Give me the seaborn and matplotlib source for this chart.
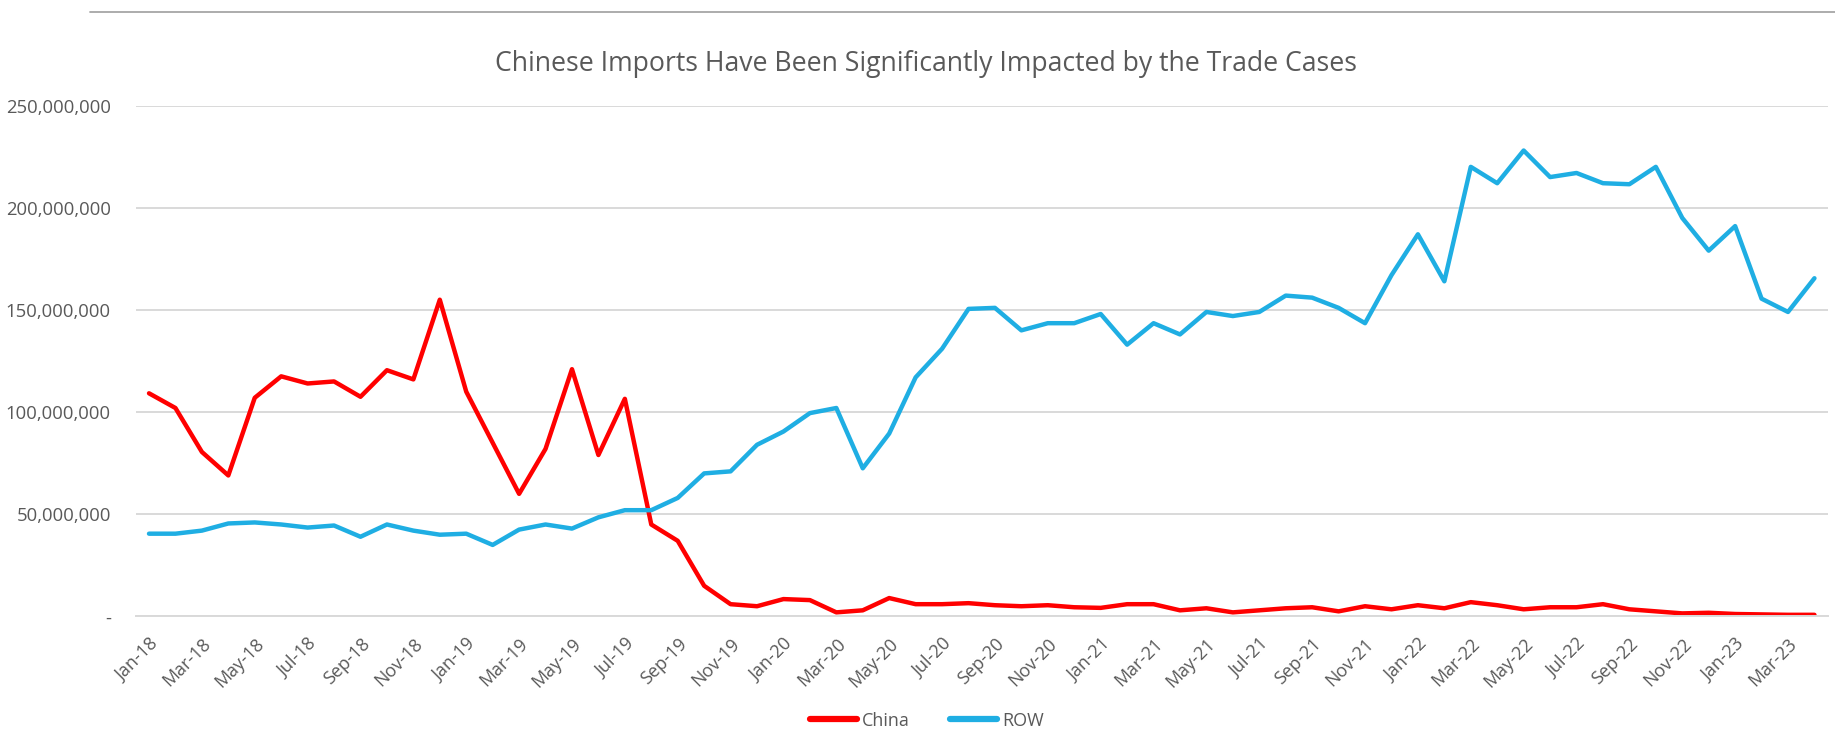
import numpy as np
import pandas as pd
import matplotlib.pyplot as plt
import matplotlib.ticker as mticker
from matplotlib.lines import Line2D
import seaborn as sns

# monthly categories Jan-18 .. Apr-23
months = pd.date_range("2018-01-01", "2023-04-01", freq="MS").strftime("%b-%y").tolist()

# imports, millions
china = [109.2, 102, 80.5, 69, 107, 117.5, 114, 115, 107.5, 120.5, 116, 155,
         110, 85, 60, 82, 121, 79, 106.5, 45, 37, 15, 6, 5,
         8.5, 8, 2, 3, 9, 6, 6, 6.5, 5.5, 5, 5.5, 4.5,
         4.2, 6, 6, 3, 4, 2, 3, 4, 4.5, 2.5, 5, 3.5,
         5.5, 4, 7, 5.5, 3.5, 4.5, 4.5, 6, 3.5, 2.5, 1.5, 1.8,
         1.2, 1, 0.8, 0.8]
row = [40.5, 40.5, 42, 45.5, 46, 45, 43.5, 44.5, 39, 45, 42, 40,
       40.5, 35, 42.5, 45, 43, 48.5, 52, 52, 58, 70, 71, 84,
       90.5, 99.5, 102, 72.5, 89.5, 117, 131, 150.5, 151, 140, 143.5, 143.5,
       148, 133, 143.5, 138, 149, 147, 149, 157, 156, 151, 143.5, 167,
       187, 164, 220, 212, 228, 215, 217, 212, 211.5, 220, 195, 179,
       191, 155.5, 149, 165.5]

df = pd.DataFrame({"month": months,
                   "China": np.array(china) * 1e6,
                   "ROW": np.array(row) * 1e6})
long_df = df.melt(id_vars="month", var_name="series", value_name="imports")
long_df["pos"] = long_df.groupby("series").cumcount()

sns.set_style("white")
plt.rcParams["font.family"] = ["Open Sans", "DejaVu Sans"]
txt = "#595959"
grid = "#D9D9D9"

fig = plt.figure(figsize=(18.35, 7.33), dpi=100)
ax = fig.add_axes([0.074, 0.159, 0.922, 0.697])

sns.lineplot(data=long_df, x="pos", y="imports", hue="series",
             palette={"China": "#FF0000", "ROW": "#1FAEE3"},
             linewidth=3.2, ax=ax, legend=False)

ax.set_ylim(0, 250e6)
ax.set_xlim(-0.5, len(months) - 0.5)
ax.yaxis.set_major_locator(mticker.MultipleLocator(50e6))
ax.yaxis.set_major_formatter(mticker.FuncFormatter(
    lambda v, p: "-" if v == 0 else f"{v:,.0f}"))
ax.grid(axis="y", color=grid, linewidth=1.4)
ax.set_axisbelow(True)

ax.set_xticks(range(0, len(months), 2))
ax.set_xticklabels(months[::2], rotation=45, ha="right", rotation_mode="anchor")
ax.set_xticks(np.arange(-0.5, len(months), 2), minor=True)
ax.tick_params(axis="x", which="major", length=0, pad=13, labelsize=13, labelcolor=txt)
ax.tick_params(axis="x", which="minor", length=7, color=grid, width=1.3)
ax.tick_params(axis="y", length=0, pad=18, labelsize=13.3, labelcolor=txt)
ax.set_xlabel("")
ax.set_ylabel("")

for s in ["top", "right", "left"]:
    ax.spines[s].set_visible(False)
ax.spines["bottom"].set_color(grid)
ax.spines["bottom"].set_linewidth(1.4)

fig.text(0.5046, 0.913, "Chinese Imports Have Been Significantly Impacted by the Trade Cases",
         ha="center", va="center", fontsize=19.2, color=txt)

# border line at the top of the chart area
fig.add_artist(Line2D([0.049, 1.0], [0.984, 0.984], color="#A6A6A6", linewidth=1.3))

handles = [Line2D([], [], color="#FF0000", linewidth=4.5),
           Line2D([], [], color="#1FAEE3", linewidth=4.5)]
fig.legend(handles, ["China", "ROW"], loc="center", bbox_to_anchor=(0.505, 0.017),
           ncol=2, frameon=False, fontsize=13, labelcolor=txt,
           handlelength=2.6, handletextpad=0.3, columnspacing=2.2)

fig.savefig("out.png", dpi=100)
